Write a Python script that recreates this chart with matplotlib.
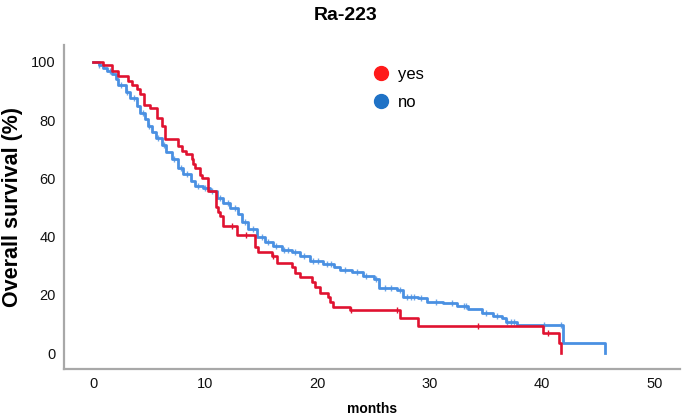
import matplotlib
matplotlib.use("Agg")
import matplotlib.pyplot as plt
from matplotlib.lines import Line2D
import numpy as np

plt.rcParams['font.family'] = ['Liberation Sans', 'DejaVu Sans']

title = "Ra-223"
xlabel = "months"
ylabel = "Overall survival (%)"
groups = ["yes", "no"]

# "yes" group (Ra-223) Kaplan-Meier steps
yes_t = [0, 0.9, 1.7, 2.2, 3.1, 3.5, 3.9, 4.2, 4.5, 5.1, 5.7, 6.1, 6.4, 7.6, 7.9, 8.3,
         8.8, 8.9, 9.1, 9.5, 9.7, 10.2, 10.9, 11.1, 11.3, 11.6, 12.8, 14.4, 14.7, 15.9,
         16.4, 17.7, 18.0, 18.4, 19.5, 19.8, 20.2, 20.9, 21.1, 21.4, 22.9, 27.3, 28.9,
         40.1, 41.5, 41.7]
yes_s = [100, 99, 97, 95, 93.5, 92, 90.8, 89, 85.3, 84, 80.8, 78, 73.5, 71, 69.5, 68.5,
         66.8, 65, 63.4, 61, 60, 55.8, 50.3, 48.6, 47, 43.8, 40.5, 36.4, 34.7, 33.5,
         31, 29.6, 27.4, 26, 24.4, 22.7, 20.5, 19.3, 17.5, 15.9, 14.7, 11.9, 9.2,
         6.9, 3.5, 0]
yes_cens = [12.4, 13.6, 16.0, 23.0, 27.1, 34.3, 40.5]

# "no" group Kaplan-Meier steps
no_t = [0, 0.5, 0.9, 1.2, 1.7, 2.0, 2.2, 2.9, 3.3, 3.9, 4.2, 4.6, 4.9, 5.2, 5.6, 6.1,
        6.5, 7.0, 7.6, 8.0, 8.7, 9.1, 9.8, 10.4, 11.0, 11.6, 12.2, 12.9, 13.3, 13.8,
        14.6, 15.3, 16.0, 16.8, 17.7, 18.4, 19.3, 20.5, 21.5, 22.0, 23.1, 24.0, 25.0,
        25.5, 27.1, 27.6, 28.9, 29.7, 31.2, 32.4, 33.4, 34.6, 35.6, 36.4, 36.8, 37.8,
        41.9, 45.6]
no_s = [100, 99, 98, 97, 96, 94, 92, 89.5, 87.5, 85, 82.5, 80.5, 78, 76, 73.8, 71.5,
        69, 66.5, 63.6, 61.4, 59, 57.4, 56.8, 55.6, 53.4, 51.5, 49.8, 47.7, 45, 42.5,
        40, 38.2, 36.6, 35.3, 34.7, 33.2, 31.6, 30.7, 29.6, 28.4, 27.8, 26.4, 25.4,
        22.5, 21.6, 19.3, 18.8, 17.6, 17.1, 16.1, 15.0, 13.8, 12.8, 11.9, 10.7, 9.6,
        3.3, 0]
no_cens = [0.5, 1.5, 2.5, 3.0, 3.6, 4.4, 5.0, 5.8, 6.3, 7.2, 7.8, 8.4, 9.3, 10.0, 10.6,
           11.3, 12.0, 12.6, 13.5, 14.2, 15.0, 15.6, 16.3, 17.0, 17.4, 18.0, 18.8, 19.6,
           20.0, 20.8, 21.2, 22.4, 23.5, 24.3, 25.2, 26.0, 26.5, 27.3, 28.0, 28.3, 28.6,
           29.2, 30.5, 32.0, 33.0, 33.2, 35.0, 36.0, 36.9, 37.2, 37.5, 40.2, 41.7]

xticks = [0, 10, 20, 30, 40, 50]
yticks = [0, 20, 40, 60, 80, 100]

red_line = '#E01230'
blue_line = '#4A90E2'
red_dot = '#FF1A1A'
blue_dot = '#1F72C6'

fig = plt.figure(figsize=(6.85, 4.17), dpi=100)
ax = fig.add_axes([0.0934, 0.115, 0.8996, 0.777])


def step_value(t, s, x):
    idx = np.searchsorted(t, x, side='right') - 1
    return np.array(s)[idx]


ax.step(no_t, no_s, where='post', color=blue_line, lw=2.0, zorder=2)
ax.plot(no_cens, step_value(no_t, no_s, no_cens), ls='none', marker='|',
        ms=5, mew=1.0, color=blue_line, alpha=0.8, zorder=2)
ax.step(yes_t, yes_s, where='post', color=red_line, lw=1.9, zorder=3)
ax.plot(yes_cens, step_value(yes_t, yes_s, yes_cens), ls='none', marker='|',
        ms=5, mew=1.0, color=red_line, zorder=3)

ax.set_xlim(-2.6, 52.3)
ax.set_ylim(-5.5, 105.8)
ax.set_xticks(xticks)
ax.set_yticks(yticks)
ax.tick_params(length=0, labelsize=10.5, pad=6, colors='#111111')

for sp in ['top', 'right']:
    ax.spines[sp].set_visible(False)
for sp in ['left', 'bottom']:
    ax.spines[sp].set_color('#a8a8a8')
    ax.spines[sp].set_linewidth(1.6)

ax.set_xlabel(xlabel, fontsize=10, fontweight='bold', labelpad=8)
ax.set_ylabel(ylabel, fontsize=15.5, fontweight='bold')
ax.yaxis.set_label_coords(-0.066, 0.5)
fig.text(0.504, 0.962, title, ha='center', va='center', fontsize=14, fontweight='bold')

handles = [Line2D([], [], ls='none', marker='o', ms=10, color=red_dot),
           Line2D([], [], ls='none', marker='o', ms=10, color=blue_dot)]
fig.legend(handles, groups, loc='upper left', bbox_to_anchor=(0.52, 0.875),
           frameon=False, fontsize=12, handletextpad=0.4, labelspacing=0.75,
           handlelength=1.2)

fig.savefig('out.png', dpi=100)
